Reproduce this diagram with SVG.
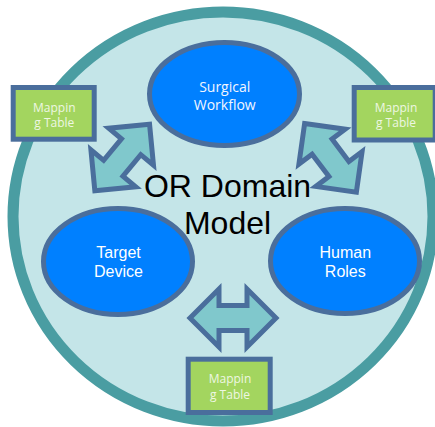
<svg xmlns="http://www.w3.org/2000/svg" width="435" height="427" viewBox="0 0 435 427">
<defs>
<style>
.arrow{fill:#80C8CC;stroke:#4A6E9C;stroke-width:5;stroke-linejoin:miter}
.node{fill:#0080FF;stroke:#4A6E9C;stroke-width:5}
.map{fill:#A3D55F;stroke:#4A6E9C;stroke-width:5}
.mt{font-family:"Open Sans",sans-serif;font-size:12px;fill:#EEF7E2;text-anchor:middle}
.nt{font-family:"Liberation Sans",Arial,sans-serif;font-size:16px;fill:#FFFFFF;text-anchor:middle}
.st{font-family:"Open Sans",sans-serif;font-size:14px;fill:#F2F6FF;text-anchor:middle}
.big{font-family:"Liberation Sans",Arial,sans-serif;font-size:32px;fill:#000000;text-anchor:middle}
</style>
<path id="dbl" d="M-43,0 L-14,-29 L-14,-12.5 L14,-12.5 L14,-29 L43,0 L14,29 L14,12.5 L-14,12.5 L-14,29 Z"/>
</defs>
<rect width="435" height="427" fill="#FFFFFF"/>
<g id="domain">
<ellipse cx="223" cy="216.5" rx="210" ry="204.5" fill="#C4E5E8" stroke="#4A9DA2" stroke-width="11"/>
</g>
<g id="connectors">
<use href="#dbl" class="arrow" transform="translate(122.2,157.5) rotate(-50.5)"/>
<use href="#dbl" class="arrow" transform="translate(330.5,157.8) rotate(53)"/>
<use href="#dbl" class="arrow" transform="translate(233,318)"/>
</g>
<g id="surgical-workflow">
<ellipse class="node" cx="224.5" cy="94" rx="75" ry="51.5"/>
<text class="st" x="224.7" y="92.3">Surgical</text>
<text class="st" x="224.7" y="110">Workflow</text>
</g>
<g id="target-device">
<ellipse class="node" cx="118" cy="261.5" rx="74.5" ry="53"/>
<text class="nt" x="118.5" y="258.3">Target</text>
<text class="nt" x="118.5" y="277.3">Device</text>
</g>
<g id="human-roles">
<ellipse class="node" cx="345" cy="261" rx="74.5" ry="52.5"/>
<text class="nt" x="345.3" y="258.3">Human</text>
<text class="nt" x="345.3" y="277.3">Roles</text>
</g>
<g id="mapping-left">
<rect class="map" x="13.2" y="87.5" width="81" height="51.7"/>
<text class="mt" x="54.3" y="111.7">Mappin</text>
<text class="mt" x="54.3" y="127.3">g Table</text>
</g>
<g id="mapping-right">
<rect class="map" x="354.2" y="87.5" width="81" height="52.5"/>
<text class="mt" x="396" y="111.7">Mappin</text>
<text class="mt" x="396" y="127.3">g Table</text>
</g>
<g id="mapping-bottom">
<rect class="map" x="188.2" y="359.2" width="82" height="53.3"/>
<text class="mt" x="230" y="383.3">Mappin</text>
<text class="mt" x="230" y="399">g Table</text>
</g>
<g id="title">
<text class="big" x="227.5" y="197.3">OR Domain</text>
<text class="big" x="227.5" y="234.3">Model</text>
</g>
</svg>
